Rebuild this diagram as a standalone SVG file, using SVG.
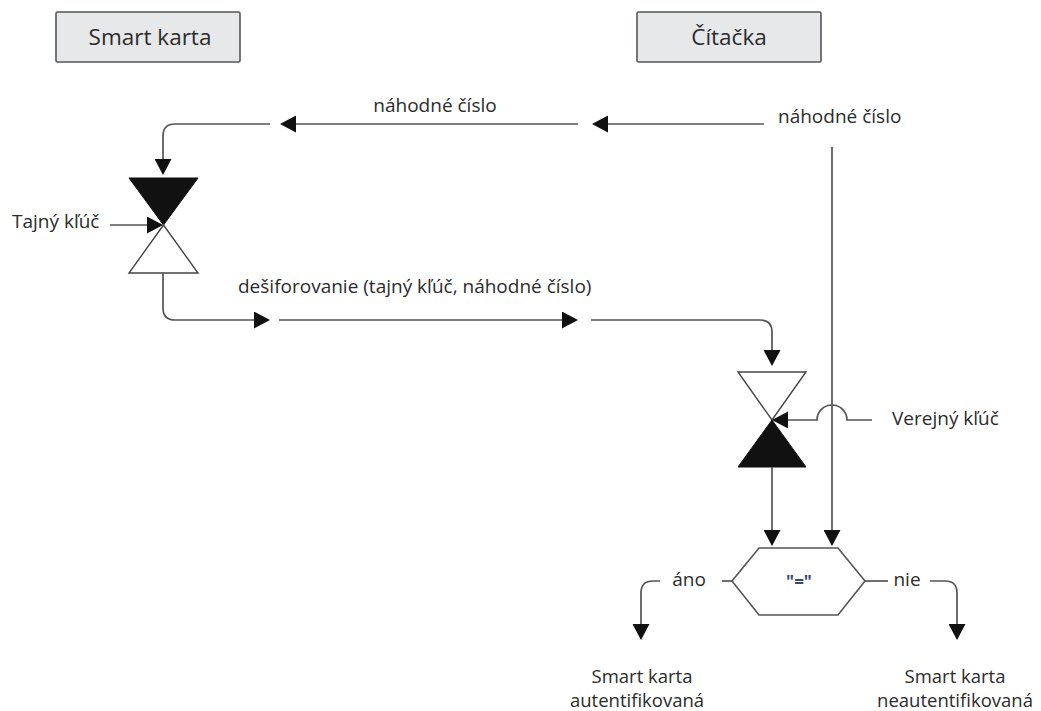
<svg xmlns="http://www.w3.org/2000/svg" width="1041" height="711" viewBox="0 0 1041 711">
  <defs>
    <style>
      .box { fill: #e7e8ea; stroke: #555; stroke-width: 1.6; }
      .lbl { font-family: "Open Sans", "Noto Sans", "DejaVu Sans", sans-serif; fill: #2b2b2b; font-size: 19px; }
      .head { font-size: 22.5px; }
      .mid { text-anchor: middle; }
      .wire { fill: none; stroke: #555; stroke-width: 1.7; }
      .solid { fill: #111; stroke: #111; stroke-width: 1; stroke-linejoin: miter; }
      .hollow { fill: #fff; stroke: #444; stroke-width: 1.4; stroke-linejoin: miter; }
    </style>
    <marker id="arrow" markerUnits="userSpaceOnUse" viewBox="0 0 16 17" refX="14" refY="8.5" markerWidth="16" markerHeight="17" orient="auto">
      <path d="M0,0 L16,8.5 L0,17 Z" fill="#111"/>
    </marker>
  </defs>

  <!-- Column headers -->
  <g id="card">
    <rect class="box" x="56" y="12" width="184" height="50" rx="1.5"/>
    <text class="lbl head mid" x="150" y="45">Smart karta</text>
  </g>
  <g id="reader">
    <rect class="box" x="637" y="12" width="184" height="50" rx="1.5"/>
    <text class="lbl head mid" x="729" y="45">Čítačka</text>
  </g>

  <!-- Card-side cipher block (encrypt with secret key) -->
  <g id="card-cipher">
    <polygon class="solid" points="129,178 198,178 163.5,225"/>
    <polygon class="hollow" points="163.5,225 129,273 198,273"/>
  </g>

  <!-- Reader-side cipher block (decrypt with public key) -->
  <g id="reader-cipher">
    <polygon class="hollow" points="738,372 806,372 772,420"/>
    <polygon class="solid" points="772,420 738,467 806,467"/>
  </g>

  <!-- Comparison -->
  <g id="compare">
    <polygon class="hollow" points="732,581 759,548 838,548 865,581 838,615 759,615" style="stroke:#555;stroke-width:1.6"/>
    <text class="lbl mid" x="799" y="588" style="font-size:17px;font-weight:bold;fill:#3b4a66">"="</text>
  </g>

  <!-- Connectors -->
  <g id="connectors">
    <path class="wire" d="M764,124 L594,124" marker-end="url(#arrow)"/>
    <path class="wire" d="M578,124 L282,124" marker-end="url(#arrow)"/>
    <path class="wire" d="M270,124 L175,124 Q163,124 163,136 L163,173" marker-end="url(#arrow)"/>
    <path class="wire" d="M110,225 L161,225" marker-end="url(#arrow)"/>
    <path class="wire" d="M163,273 L163,308 Q163,320 175,320 L268,320" marker-end="url(#arrow)"/>
    <path class="wire" d="M279,320 L576,320" marker-end="url(#arrow)"/>
    <path class="wire" d="M591,320 L760,320 Q772,320 772,332 L772,364" marker-end="url(#arrow)"/>
    <path class="wire" d="M832,147 L832,544" marker-end="url(#arrow)"/>
    <path class="wire" d="M872,420 L847,420 A15,15 0 0 0 817,420 L774,420" marker-end="url(#arrow)"/>
    <path class="wire" d="M772,467 L772,544" marker-end="url(#arrow)"/>
    <path class="wire" d="M732,581 L722,581"/>
    <path class="wire" d="M660,581 L653,581 Q641,581 641,593 L641,638" marker-end="url(#arrow)"/>
    <path class="wire" d="M865,581 L888,581"/>
    <path class="wire" d="M930,581 L945,581 Q957,581 957,593 L957,638" marker-end="url(#arrow)"/>
  </g>

  <!-- Labels -->
  <g id="labels">
    <text class="lbl mid" x="435" y="112">náhodné číslo</text>
    <text class="lbl" x="778" y="123">náhodné číslo</text>
    <text class="lbl" x="12" y="228">Tajný kľúč</text>
    <text class="lbl" x="238" y="293">dešiforovanie (tajný kľúč, náhodné číslo)</text>
    <text class="lbl" x="892" y="425">Verejný kľúč</text>
    <text class="lbl mid" x="689" y="586">áno</text>
    <text class="lbl mid" x="907" y="586">nie</text>
    <text class="lbl mid" x="642" y="683" style="font-size:18.5px">Smart karta</text>
    <text class="lbl mid" x="637" y="707" style="font-size:18.5px">autentifikovaná</text>
    <text class="lbl mid" x="955" y="683" style="font-size:18.5px">Smart karta</text>
    <text class="lbl mid" x="955" y="707" style="font-size:18.5px">neautentifikovaná</text>
  </g>
</svg>
